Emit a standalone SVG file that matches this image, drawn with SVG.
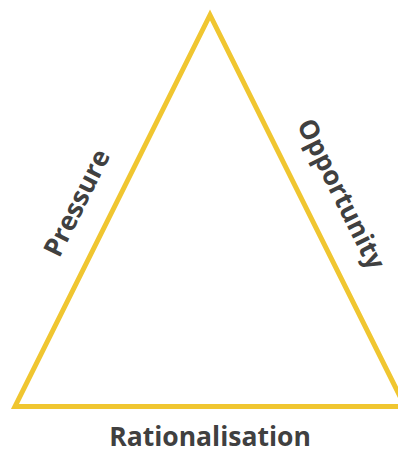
<svg xmlns="http://www.w3.org/2000/svg" width="398" height="453" viewBox="0 0 398 453">
<style>
.lbl{font-family:"Open Sans","Liberation Sans",sans-serif;font-weight:bold;font-size:26.5px;fill:#404040;text-anchor:middle}
.tri{fill:none;stroke:#F0C630;stroke-width:5;stroke-linejoin:miter}
</style>
<g id="triangle"><polygon class="tri" points="210,15 15,406.5 405,406.5"/></g>
<g id="pressure"><text class="lbl" transform="translate(85,207) rotate(-63.5)">Pressure</text></g>
<g id="opportunity"><text class="lbl" transform="translate(333,198) rotate(63.5)">Opportunity</text></g>
<g id="rationalisation"><text class="lbl" x="210" y="446">Rationalisation</text></g>
</svg>
